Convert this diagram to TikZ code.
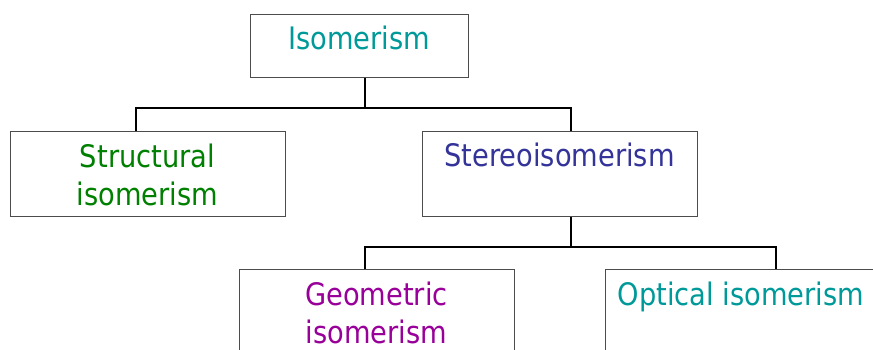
\documentclass[tikz,border=0pt]{standalone}
\usepackage{fontspec}
\setmainfont{DejaVu Sans}[FakeStretch=0.88]
\definecolor{cteal}{RGB}{0,153,153}
\definecolor{cgreen}{RGB}{0,128,0}
\definecolor{cblue}{RGB}{51,51,153}
\definecolor{cpurple}{RGB}{153,0,153}
\tikzset{
  box/.style={draw=black!70, line width=1.1pt, fill=white, inner sep=0pt, anchor=north west, minimum width=275pt, minimum height=85pt},
  lbl/.style={anchor=base, inner sep=0pt, align=center, font=\fontsize{31}{38}\selectfont},
  conn/.style={draw=black, line width=1.2pt},
}
\begin{document}
\begin{tikzpicture}[x=1pt,y=-1pt]
\useasboundingbox (0,0) rectangle (873,349);
\fill[white] (0,0) rectangle (873,349);
% boxes
\node[box, minimum width=218pt, minimum height=63pt] (iso) at (250,14) {};
\node[box] (struct) at (10,131) {};
\node[box] (stereo) at (422,131) {};
\node[box, minimum height=95pt] (geo) at (239,269) {};
\node[box, minimum height=95pt] (opt) at (605,269) {};
% labels
\node[lbl, text=cteal] (tiso) at (359,49) {Isomerism};
\node[lbl, text=cgreen] (tstruct) at (147.5,205) {Structural\\isomerism};
\node[lbl, text=cblue] (tstereo) at (559.5,166) {Stereoisomerism};
\node[lbl, text=cpurple] (tgeo) at (376.5,343) {Geometric\\isomerism};
\node[lbl, text=cteal] (topt) at (741,305) {Optical isomerism};
% connectors
\coordinate (j1) at (365,108);
\coordinate (j2) at (571,247);
\draw[conn] (iso.south -| j1) -- (j1);
\draw[conn] (j1) -| (struct.north -| 136,0);
\draw[conn] (j1) -| (stereo.north -| 571,0);
\draw[conn] (stereo.south -| j2) -- (j2);
\draw[conn] (j2) -| (geo.north -| 365,0);
\draw[conn] (j2) -| (opt.north -| 776,0);
\end{tikzpicture}
\end{document}
